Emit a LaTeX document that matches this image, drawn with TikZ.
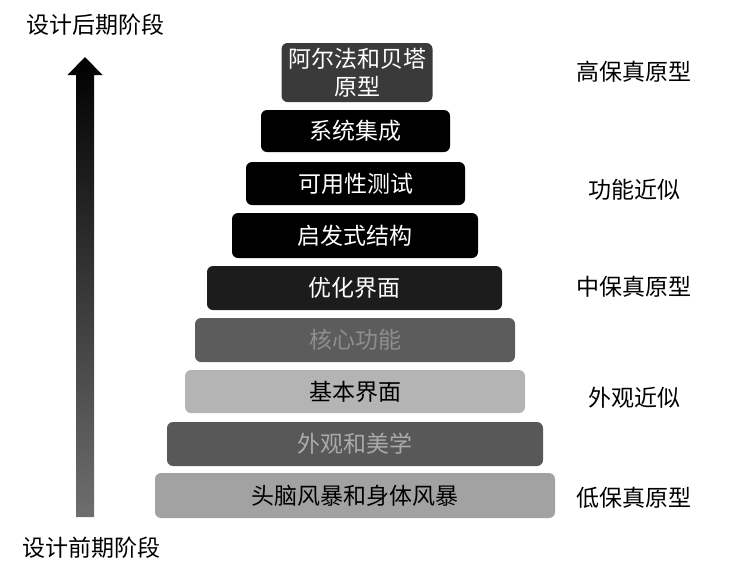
\documentclass[tikz,border=0pt]{standalone}
\usepackage{fontspec}
\setmainfont{Noto Sans CJK SC}
\usepackage{xcolor}
\definecolor{alphagray}{HTML}{3A3A3A}
\definecolor{optgray}{HTML}{1C1C1C}
\definecolor{coregray}{HTML}{5C5C5C}
\definecolor{coretext}{HTML}{8E8E8E}
\definecolor{basicgray}{HTML}{B4B4B4}
\definecolor{looksgray}{HTML}{585858}
\definecolor{lookstext}{HTML}{AAAAAA}
\definecolor{stormgray}{HTML}{A2A2A2}
\definecolor{tailgray}{HTML}{6E6E6E}
\usetikzlibrary{calc}

\begin{document}
\begin{tikzpicture}[x=1pt,y=-1pt,
  layer/.style={fill=#1,rounded corners=6pt,inner sep=0pt,
                align=center,font=\fontsize{23}{28}\selectfont},
  stage/.style={font=\fontsize{23}{28}\selectfont,inner sep=0pt}
]
\useasboundingbox (0,0) rectangle (737,576);

% pyramid of prototype activities
\node[layer=alphagray,text=white,minimum width=151,minimum height=59] (alpha) at (357,72.5)
  {阿尔法和贝塔\\原型};
\node[layer=black,text=white,minimum width=189,minimum height=42] (integr) at (355.5,131) {系统集成};
\node[layer=black,text=white,minimum width=219,minimum height=43] (usab) at (355.5,183.5) {可用性测试};
\node[layer=black,text=white,minimum width=246,minimum height=45] (heur) at (355,235.5) {启发式结构};
\node[layer=optgray,text=white,minimum width=295,minimum height=44] (optui) at (354.5,288) {优化界面};
\node[layer=coregray,text=coretext,minimum width=320,minimum height=44] (core) at (355,340) {核心功能};
\node[layer=basicgray,text=black,minimum width=340,minimum height=43] (basicui) at (355,391.5) {基本界面};
\node[layer=looksgray,text=lookstext,minimum width=376,minimum height=44] (looks) at (355,444) {外观和美学};
\node[layer=stormgray,text=black,minimum width=400,minimum height=45] (storm) at (355,495.5) {头脑风暴和身体风暴};

% fidelity levels
\node[stage] (hifi) at (634,72) {高保真原型};
\node[stage] (funcapp) at (634.5,190) {功能近似};
\node[stage] (midfi) at (634,287) {中保真原型};
\node[stage] (lookapp) at (634.5,398) {外观近似};
\node[stage] (lofi) at (634,498) {低保真原型};

% design phase arrow
\node[stage] (late) at (96,25) {设计后期阶段};
\node[stage] (early) at (91.5,548) {设计前期阶段};
\coordinate (tail) at (85,517);
\coordinate (tip) at (85,57);
\shade[top color=black,middle color=black!85,bottom color=tailgray]
  ($(tail)+(-9,0)$) -- ($(tip)+(-9,18)$) -- ($(tip)+(-17.5,18)$) -- (tip)
  -- ($(tip)+(17.5,18)$) -- ($(tip)+(9,18)$) -- ($(tail)+(9,0)$) -- cycle;
\end{tikzpicture}
\end{document}
